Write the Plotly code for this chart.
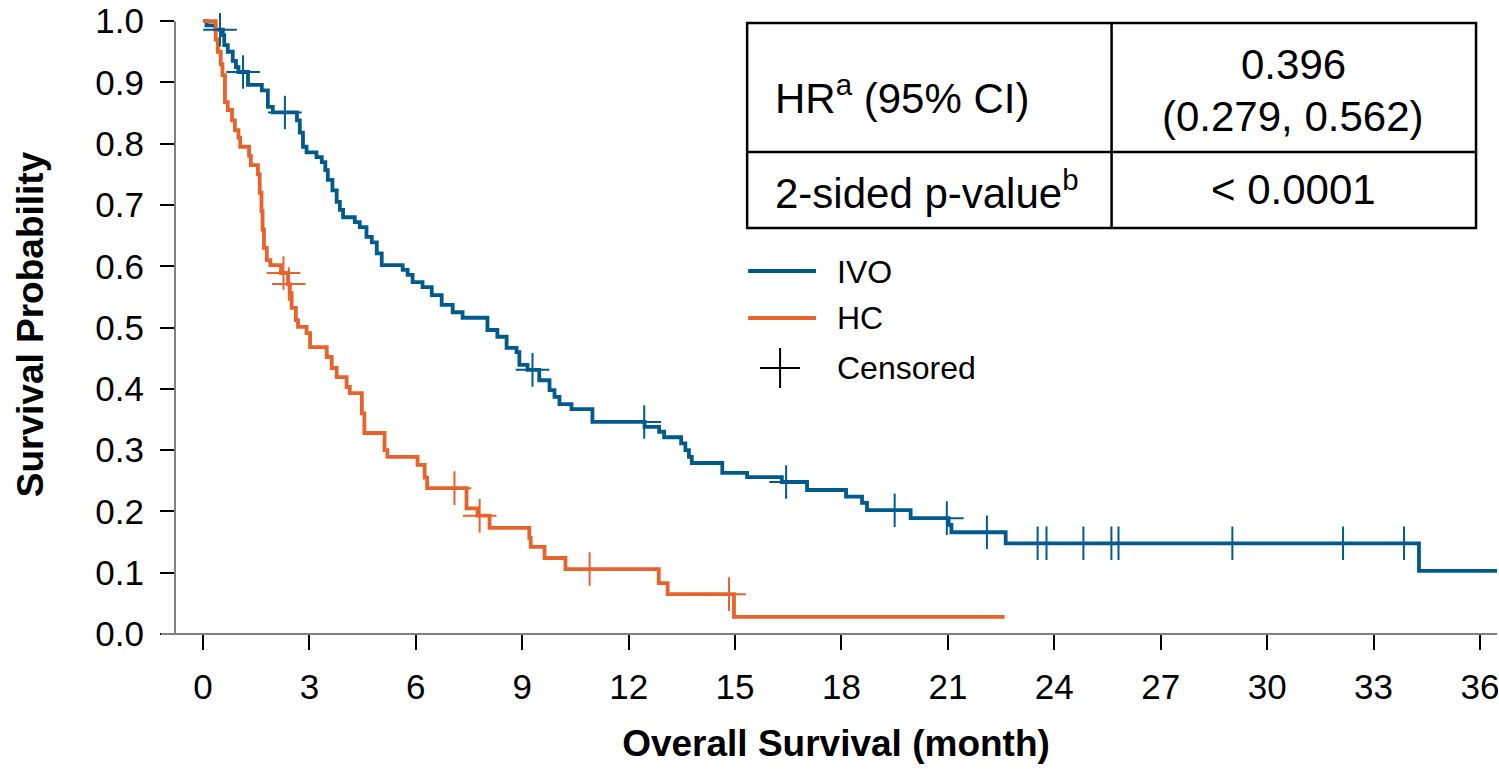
import plotly.graph_objects as go

# ---------------- data ----------------
ivo_time = [0.0, 0.10, 0.35, 0.56, 0.60, 0.70, 0.84, 0.93, 1.00, 1.27, 1.66, 1.83, 1.97,
            2.65, 2.73, 2.82, 2.92, 3.20, 3.35, 3.45, 3.52, 3.65, 3.77, 3.86, 3.95,
            4.28, 4.42, 4.61, 4.76, 4.90, 5.04, 5.63, 5.77, 5.91, 6.19, 6.45, 6.73,
            7.04, 7.32, 8.02, 8.30, 8.56, 8.84, 8.92, 9.15, 9.48, 9.77, 9.91, 10.05,
            10.39, 10.98, 12.45, 12.86, 13.00, 13.48, 13.60, 13.70, 13.78, 14.64,
            15.34, 16.32, 17.03, 18.13, 18.58, 18.72, 19.95, 21.02, 21.10, 22.63,
            34.28, 36.60]
ivo_surv = [1.000, 0.993, 0.986, 0.977, 0.961, 0.950, 0.935, 0.925, 0.917, 0.896, 0.887, 0.860, 0.851,
            0.838, 0.818, 0.795, 0.786, 0.778, 0.770, 0.757, 0.741, 0.724, 0.705, 0.692, 0.680,
            0.672, 0.664, 0.648, 0.639, 0.621, 0.602, 0.594, 0.586, 0.574, 0.566, 0.553, 0.537,
            0.525, 0.516, 0.496, 0.485, 0.467, 0.460, 0.439, 0.431, 0.414, 0.398, 0.387, 0.375,
            0.367, 0.346, 0.338, 0.330, 0.321, 0.311, 0.300, 0.289, 0.279, 0.263,
            0.256, 0.248, 0.235, 0.224, 0.214, 0.202, 0.189, 0.178, 0.166, 0.148,
            0.103, 0.103]
ivo_censor = [0.48, 1.13, 2.31, 9.29, 12.44, 16.44, 19.50, 20.97, 22.10,
              23.53, 23.78, 24.82, 25.61, 25.81, 29.02, 32.14, 33.86]

hc_time = [0.0, 0.36, 0.42, 0.50, 0.55, 0.62, 0.70, 0.82, 0.90, 1.00, 1.05, 1.30, 1.35,
           1.55, 1.60, 1.65, 1.68, 1.72, 1.80, 1.90, 2.20, 2.40, 2.45, 2.50, 2.62, 2.68,
           2.92, 3.02, 3.49, 3.63, 3.77, 4.05, 4.14, 4.48, 4.55, 5.12, 5.20, 6.05, 6.25,
           6.32, 7.43, 7.74, 8.08, 9.20, 9.24, 9.63, 10.22, 12.85, 13.10, 14.97, 22.60]
hc_surv = [1.000, 0.970, 0.950, 0.930, 0.912, 0.868, 0.855, 0.838, 0.822, 0.810, 0.795, 0.780, 0.765,
           0.750, 0.720, 0.690, 0.660, 0.630, 0.610, 0.602, 0.589, 0.571, 0.556, 0.532, 0.512, 0.501,
           0.491, 0.468, 0.452, 0.434, 0.419, 0.403, 0.393, 0.360, 0.328, 0.300, 0.289, 0.276, 0.255,
           0.238, 0.205, 0.193, 0.173, 0.157, 0.142, 0.124, 0.106, 0.083, 0.065, 0.028, 0.028]
hc_censor = [2.27, 2.42, 7.09, 7.80, 10.90, 14.83]

x_ticks = [0, 3, 6, 9, 12, 15, 18, 21, 24, 27, 30, 33, 36]
y_ticks = [0.0, 0.1, 0.2, 0.3, 0.4, 0.5, 0.6, 0.7, 0.8, 0.9, 1.0]
y_ticktext = ["0.0", "0.1", "0.2", "0.3", "0.4", "0.5", "0.6", "0.7", "0.8", "0.9", "1.0"]

legend_names = ["IVO", "HC", "Censored"]
table_rows = [["HR<sup>a</sup> (95% CI)", "0.396", "(0.279, 0.562)"],
              ["2-sided p-value<sup>b</sup>", "&lt; 0.0001"]]

x_title = "Overall Survival (month)"
y_title = "Survival Probability"

# ---------------- styling ----------------
BLUE = "#005B8C"
ORANGE = "#E8632B"
FONT = "Liberation Sans, Arial, sans-serif"

W, H = 1499, 769
L, R, T, B = 175, 0, 15, 135
PW, PH = W - L - R, H - T - B
X_RANGE = [-0.788, 36.48]
Y_RANGE = [0, 1.01]


def surv_at(times, survs, t):
    s = survs[0]
    for ti, si in zip(times, survs):
        if ti <= t:
            s = si
        else:
            break
    return s


def px(xp):
    return (xp - L) / PW


def py(yp):
    return (H - B - yp) / PH


fig = go.Figure()

fig.add_trace(go.Scatter(x=ivo_time, y=ivo_surv, mode="lines", line=dict(color=BLUE, width=3.8, shape="hv"),
                         name="IVO", showlegend=False, hoverinfo="skip"))
fig.add_trace(go.Scatter(x=hc_time, y=hc_surv, mode="lines", line=dict(color=ORANGE, width=3.8, shape="hv"),
                         name="HC", showlegend=False, hoverinfo="skip"))

fig.add_trace(go.Scatter(x=ivo_censor, y=[surv_at(ivo_time, ivo_surv, t) for t in ivo_censor],
                         mode="markers", marker=dict(symbol="cross-thin", size=24, line=dict(color=BLUE, width=2)),
                         showlegend=False, hoverinfo="skip", cliponaxis=False))
fig.add_trace(go.Scatter(x=hc_censor, y=[surv_at(hc_time, hc_surv, t) for t in hc_censor],
                         mode="markers", marker=dict(symbol="cross-thin", size=24, line=dict(color=ORANGE, width=2)),
                         showlegend=False, hoverinfo="skip", cliponaxis=False))

shapes = []
# axis lines
shapes.append(dict(type="line", xref="paper", yref="paper", x0=0, x1=0, y0=0, y1=1.0 / Y_RANGE[1],
                   line=dict(color="#808080", width=2)))
shapes.append(dict(type="line", xref="paper", yref="paper", x0=px(161), x1=1, y0=0, y1=0,
                   line=dict(color="#808080", width=2)))

# table
tx0, tx1, txm = 748, 1478, 1113
ty0, ty1, tym = 23, 228, 152
lw = 2.5
shapes.append(dict(type="rect", xref="paper", yref="paper", x0=px(tx0), x1=px(tx1), y0=py(ty1), y1=py(ty0),
                   line=dict(color="black", width=lw), fillcolor="white", layer="above"))
shapes.append(dict(type="line", xref="paper", yref="paper", x0=px(txm), x1=px(txm), y0=py(ty1), y1=py(ty0),
                   line=dict(color="black", width=lw)))
shapes.append(dict(type="line", xref="paper", yref="paper", x0=px(tx0), x1=px(tx1), y0=py(tym), y1=py(tym),
                   line=dict(color="black", width=lw)))

# legend graphics
shapes.append(dict(type="line", xref="paper", yref="paper", x0=px(749), x1=px(817), y0=py(271), y1=py(271),
                   line=dict(color=BLUE, width=4)))
shapes.append(dict(type="line", xref="paper", yref="paper", x0=px(749), x1=px(817), y0=py(318), y1=py(318),
                   line=dict(color=ORANGE, width=4)))
shapes.append(dict(type="line", xref="paper", yref="paper", x0=px(761), x1=px(801), y0=py(368), y1=py(368),
                   line=dict(color="black", width=2)))
shapes.append(dict(type="line", xref="paper", yref="paper", x0=px(781), x1=px(781), y0=py(348), y1=py(388),
                   line=dict(color="black", width=2)))

ann = []
TF = 42
def add_text(text, x, y, anchor="left", size=TF):
    ann.append(dict(text=text, xref="paper", yref="paper", x=px(x), y=py(y), xanchor=anchor, yanchor="middle",
                    showarrow=False, font=dict(family=FONT, size=size, color="black")))

add_text(table_rows[0][0], 774, 95)
add_text(table_rows[0][1], 1295, 65, "center")
add_text(table_rows[0][2], 1295, 116, "center")
add_text(table_rows[1][0], 774, 190)
add_text(table_rows[1][1], 1295, 190, "center")

add_text(legend_names[0], 836, 272, size=32)
add_text(legend_names[1], 836, 318, size=32)
add_text(legend_names[2], 836, 368, size=32)

fig.update_layout(
    width=W, height=H,
    margin=dict(l=L, r=R, t=T, b=B, pad=0),
    plot_bgcolor="white", paper_bgcolor="white",
    font=dict(family=FONT, color="black"),
    shapes=shapes, annotations=ann,
    showlegend=False,
)
fig.update_xaxes(range=X_RANGE, tickvals=x_ticks, ticks="outside", ticklen=15, tickwidth=1.5, tickcolor="black",
                 showline=False, showgrid=False, zeroline=False, tickfont=dict(size=35, family=FONT),
                 ticklabelstandoff=7, ticklabeloverflow="allow",
                 title=dict(text="<b>" + x_title + "</b>", font=dict(size=37, family=FONT), standoff=25))
fig.update_yaxes(range=Y_RANGE, tickvals=y_ticks, ticktext=y_ticktext, ticks="outside", ticklen=14, tickwidth=1.5,
                 tickcolor="black", showline=False, showgrid=False, zeroline=False,
                 tickfont=dict(size=35, family=FONT), ticklabelstandoff=9, ticklabeloverflow="allow",
                 title=dict(text="<b>" + y_title + "</b>", font=dict(size=37, family=FONT), standoff=40))

fig.write_html("out.html", config={"displayModeBar": False},
               post_script="document.body.style.margin='0';document.body.style.padding='0';")
